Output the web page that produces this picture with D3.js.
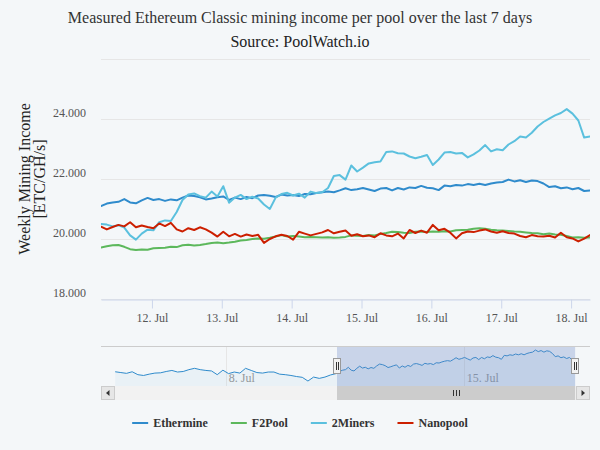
<!DOCTYPE html>
<html>
<head>
<meta charset="utf-8">
<script src="https://cdn.jsdelivr.net/npm/d3@7"></script>
<style>
  html, body { margin: 0; padding: 0; background: #f4f7f9; }
  svg { display: block; font-family: 'Liberation Serif', 'Times New Roman', serif; }
</style>
</head>
<body>
<div id="chart"></div>
<script>
/**
 * Data
 */
const poolNames = ['Ethermine', 'F2Pool', '2Miners', 'Nanopool']
const poolColors = ['#2f8bcc', '#5cb85c', '#5bc0de', '#cc1f00']

// main window: one reading every 2 hours from 11 Jul 06:30 (UTC)
const mainStart = Date.UTC(2021, 6, 11, 6, 30)
const mainStepHours = 2

const ethermine = [
  21100, 21180, 21220, 21240, 21330, 21220, 21190, 21290, 21370, 21300,
  21330, 21270, 21320, 21290, 21380, 21450, 21430, 21390, 21320, 21350,
  21390, 21420, 21300, 21380, 21330, 21400, 21360, 21450, 21470, 21440,
  21400, 21480, 21450, 21470, 21430, 21500, 21490, 21530, 21560, 21580,
  21560, 21620, 21690, 21630, 21660, 21700, 21650, 21600, 21680, 21700,
  21620, 21700, 21650, 21720, 21700, 21770, 21710, 21690, 21630, 21780,
  21760, 21800, 21780, 21830, 21800, 21840, 21800, 21850, 21880, 21900,
  21980, 21920, 21960, 21900, 21950, 21930, 21850, 21730, 21760, 21690,
  21720, 21660, 21700, 21600, 21620
]
const f2pool = [
  19720, 19760, 19790, 19800, 19740, 19660, 19630, 19650, 19640, 19690,
  19700, 19710, 19740, 19730, 19790, 19810, 19780, 19800, 19830, 19870,
  19880, 19860, 19880, 19910, 19950, 19970, 20000, 20020, 20010, 20040,
  20080, 20130, 20080, 20100, 20080, 20060, 20070, 20060, 20050, 20060,
  20040, 20050, 20070, 20120, 20110, 20100, 20130, 20120, 20170, 20200,
  20240, 20230, 20210, 20200, 20240, 20250, 20230, 20250, 20240, 20260,
  20250, 20290, 20300, 20310, 20340, 20360, 20340, 20310, 20290, 20280,
  20270, 20250, 20240, 20220, 20200, 20190, 20160, 20180, 20150, 20140,
  20100, 20050, 20060, 20040, 20050
]
const twoMiners = [
  20500, 20480, 20420, 20460, 20380, 20120, 19980, 20180, 20310, 20290,
  20560, 20620, 20600, 20900, 21300, 21480, 21520, 21430, 21380, 21580,
  21420, 21760, 21210, 21380, 21470, 21330, 21410, 21350, 21150, 21000,
  21380, 21500, 21540, 21450, 21510, 21380, 21580, 21530, 21560, 21700,
  22100, 22130, 21980, 22450, 22250, 22380, 22520, 22560, 22580, 22900,
  22920, 22860, 22850, 22750, 22690, 22740, 22800, 22470, 22650, 22880,
  22900, 22850, 22870, 22720, 22820, 22950, 23130, 22920, 22990, 22960,
  23150, 23260, 23420, 23380, 23540, 23750, 23900, 24010, 24120, 24200,
  24330, 24180, 23950, 23380, 23420
]
const nanopool = [
  20410, 20320, 20400, 20470, 20420, 20560, 20390, 20450, 20400, 20360,
  20520, 20430, 20540, 20320, 20250, 20360, 20300, 20390, 20320, 20210,
  20080, 20240, 20090, 20170, 20080, 20150, 20100, 20140, 19870, 20000,
  20090, 20140, 20100, 19980, 20240, 20180, 20120, 20170, 20220, 20300,
  20190, 20240, 20280, 20110, 20160, 20090, 20120, 20060, 20190, 20120,
  20090, 20180, 20020, 20300, 20200, 20280, 20210, 20470, 20290, 20340,
  20210, 20020, 20190, 20250, 20230, 20280, 20320, 20250, 20210, 20260,
  20200, 20180, 20100, 20060, 20130, 20090, 20080, 20110, 20050, 20210,
  20060, 20020, 19920, 20010, 20130
]
const poolValues = [ethermine, f2pool, twoMiners, nanopool]

// older Ethermine readings, only seen in the navigator (every 4 hours from 4 Jul 18:00)
const earlyStart = Date.UTC(2021, 6, 4, 18)
const earlyStepHours = 4
const ethermineEarly = [
  21160, 21130, 21100, 21160, 21050, 21020, 21070, 21110, 21120, 21170,
  21210, 21150, 21170, 21240, 21290, 21240, 21210, 21190, 21050, 21220,
  21090, 21150, 21110, 21290, 21210, 21130, 21110, 21150, 21150, 21070,
  21050, 21020, 20980, 20950, 20810, 20960, 20910, 20960, 21040
]

// axes
const yTicks = [18000, 20000, 22000, 24000, 26000]
const yLabelled = [18000, 20000, 22000, 24000]
const navTicks = [Date.UTC(2021, 6, 8), Date.UTC(2021, 6, 15)]
const navRange = [Date.UTC(2021, 6, 4, 8), Date.UTC(2021, 6, 18, 17)]

const titleText = 'Measured Ethereum Classic mining income per pool over the last 7 days'
const subtitleText = 'Source: PoolWatch.io'
const yTitle = ['Weekly Mining Income', '[ETC/GH/s]']

/**
 * Layout
 */
const W = 600
const H = 450
const plot = { left: 101, right: 590, top: 59, bottom: 299 }
const nav = { top: 346, bottom: 386, scroll: 14 }
const c_grid = '#e6e6e6'
const c_axis = '#ccd6eb'

const hour = 3600e3
const mainTimes = ethermine.map((d, i) => new Date(mainStart + i * mainStepHours * hour))
const mainEnd = mainTimes[mainTimes.length - 1]
const earlyTimes = ethermineEarly.map((d, i) => new Date(earlyStart + i * earlyStepHours * hour))

const svg = d3.select('#chart')
  .append('svg')
  .attr('width', W)
  .attr('height', H)

svg.append('rect')
  .attr('width', W)
  .attr('height', H)
  .attr('fill', '#f4f7f9')

// titles
svg.append('text')
  .text(titleText)
  .attr('x', W / 2)
  .attr('y', 23)
  .attr('text-anchor', 'middle')
  .style('font-size', '16px')
  .attr('fill', '#333')

svg.append('text')
  .text(subtitleText)
  .attr('x', W / 2)
  .attr('y', 47)
  .attr('text-anchor', 'middle')
  .style('font-size', '16px')
  .attr('fill', '#222')

/**
 * Main chart
 */
let x = d3.scaleUtc()
  .domain([new Date(mainStart), mainEnd])
  .range([plot.left, plot.right])
let y = d3.scaleLinear()
  .domain([18000, 26000])
  .range([plot.bottom, plot.top])

let fmt = d3.formatLocale({ decimal: ',', thousands: '.', grouping: [3], currency: ['', ''] }).format(',')

// grid
svg.append('g')
  .selectAll('line')
  .data(yTicks)
  .enter()
  .append('line')
  .attr('x1', plot.left)
  .attr('x2', plot.right)
  .attr('y1', (d) => Math.round(y(d)) + 0.5)
  .attr('y2', (d) => Math.round(y(d)) + 0.5)
  .attr('stroke', c_grid)

// y labels
svg.append('g')
  .selectAll('text')
  .data(yLabelled)
  .enter()
  .append('text')
  .text((d) => fmt(d))
  .attr('x', 86)
  .attr('y', (d) => y(d) - 2)
  .attr('text-anchor', 'end')
  .style('font-size', '12px')
  .attr('fill', '#555')

// y title, two lines
yTitle.forEach((t, i) => {
  svg.append('text')
    .text(t)
    .attr('transform', `translate(${30 + i * 15},${(plot.top + plot.bottom) / 2}) rotate(-90)`)
    .attr('text-anchor', 'middle')
    .style('font-size', '16px')
    .attr('fill', '#222')
})

// x axis
let x_axis = d3.axisBottom(x)
  .ticks(d3.utcDay.every(1))
  .tickFormat(d3.utcFormat('%-d. %b'))
  .tickSizeInner(9)
  .tickSizeOuter(0)
  .tickPadding(5)

let gx = svg.append('g')
  .attr('transform', `translate(0,${plot.bottom + 0.5})`)
  .call(x_axis)
gx.select('.domain').attr('stroke', c_axis)
gx.selectAll('.tick line').attr('stroke', c_axis)
gx.selectAll('.tick text')
  .attr('fill', '#555')
  .style('font-size', '12px')
  .style('font-family', "'Liberation Serif', 'Times New Roman', serif")

// series
svg.append('clipPath')
  .attr('id', 'clip')
  .append('rect')
  .attr('x', plot.left)
  .attr('y', plot.top - 5)
  .attr('width', plot.right - plot.left)
  .attr('height', plot.bottom - plot.top + 5)

let line = d3.line()
  .x((d, i) => x(mainTimes[i]))
  .y((d) => y(d))

svg.append('g')
  .attr('clip-path', 'url(#clip)')
  .selectAll('path')
  .data(poolValues)
  .enter()
  .append('path')
  .attr('d', (d) => line(d))
  .attr('fill', 'none')
  .attr('stroke', (d, i) => poolColors[i])
  .attr('stroke-width', 2)
  .attr('stroke-linejoin', 'round')
  .attr('stroke-linecap', 'round')

/**
 * Navigator
 */
let navTimes = earlyTimes.concat(mainTimes)
let navValues = ethermineEarly.concat(ethermine)

let nx = d3.scaleUtc()
  .domain(navRange.map((d) => new Date(d)))
  .range([plot.left, plot.right])
let ext = d3.extent(navValues)
let span = ext[1] - ext[0]
let ny = d3.scaleLinear()
  .domain([ext[0] - span * 0.16, ext[1] + span * 0.13])
  .range([nav.bottom, nav.top])

let ng = svg.append('g')

ng.selectAll('.navgrid')
  .data(navTicks)
  .enter()
  .append('line')
  .attr('x1', (d) => Math.round(nx(d)) + 0.5)
  .attr('x2', (d) => Math.round(nx(d)) + 0.5)
  .attr('y1', nav.top)
  .attr('y2', nav.bottom)
  .attr('stroke', c_grid)

ng.selectAll('.navlabel')
  .data(navTicks)
  .enter()
  .append('text')
  .text((d) => d3.utcFormat('%-d. %b')(new Date(d)))
  .attr('x', (d) => nx(d) + 3)
  .attr('y', nav.top + 36)
  .style('font-size', '12px')
  .attr('fill', '#999')

ng.append('path')
  .attr('d', d3.area()
    .x((d, i) => nx(navTimes[i]))
    .y0(nav.bottom)
    .y1((d) => ny(d))(navValues))
  .attr('fill', poolColors[0])
  .attr('fill-opacity', 0.05)

ng.append('path')
  .attr('d', d3.line()
    .x((d, i) => nx(navTimes[i]))
    .y((d) => ny(d))(navValues))
  .attr('fill', 'none')
  .attr('stroke', poolColors[0])
  .attr('stroke-width', 1)

let selL = nx(new Date(mainStart))
let selR = nx(mainEnd)

// selected zone
ng.append('rect')
  .attr('x', selL)
  .attr('y', nav.top)
  .attr('width', selR - selL)
  .attr('height', nav.bottom - nav.top)
  .attr('fill', 'rgba(102,133,194,0.3)')

ng.append('line')
  .attr('x1', plot.left)
  .attr('x2', plot.right)
  .attr('y1', nav.top + 0.5)
  .attr('y2', nav.top + 0.5)
  .attr('stroke', '#ccc')

// scrollbar
let sy = nav.bottom
ng.append('rect')
  .attr('x', plot.left)
  .attr('y', sy)
  .attr('width', plot.right - plot.left)
  .attr('height', nav.scroll)
  .attr('fill', '#f2f2f2')

ng.append('rect')
  .attr('x', selL)
  .attr('y', sy)
  .attr('width', selR - selL)
  .attr('height', nav.scroll)
  .attr('fill', '#ccc')

let mid = Math.round((selL + selR) / 2)
;[-3, 0, 3].forEach((o) => {
  ng.append('line')
    .attr('x1', mid + o + 0.5)
    .attr('x2', mid + o + 0.5)
    .attr('y1', sy + 4)
    .attr('y2', sy + 10)
    .attr('stroke', '#333')
})

// arrow buttons
;[[plot.left, -1], [plot.right - nav.scroll, 1]].forEach(([bx, dir]) => {
  ng.append('rect')
    .attr('x', bx + 0.5)
    .attr('y', sy + 0.5)
    .attr('width', nav.scroll - 1)
    .attr('height', nav.scroll - 1)
    .attr('fill', '#e6e6e6')
    .attr('stroke', '#ccc')
  let cx = bx + nav.scroll / 2
  let cy = sy + nav.scroll / 2
  ng.append('path')
    .attr('d', `M${cx + 2 * dir},${cy} L${cx - 1.5 * dir},${cy - 3} L${cx - 1.5 * dir},${cy + 3} Z`)
    .attr('fill', '#333')
})

// handles
;[selL, selR].forEach((hx) => {
  let h = ng.append('g')
    .attr('transform', `translate(${Math.round(hx)},${(nav.top + nav.bottom) / 2})`)
  h.append('rect')
    .attr('x', -3.5)
    .attr('y', -7.5)
    .attr('width', 7)
    .attr('height', 15)
    .attr('fill', '#f2f2f2')
    .attr('stroke', '#999')
  ;[-1, 1].forEach((o) => {
    h.append('line')
      .attr('x1', o + 0.5)
      .attr('x2', o + 0.5)
      .attr('y1', -4)
      .attr('y2', 4)
      .attr('stroke', '#333')
  })
})

/**
 * Legend
 */
let lg = svg.append('g')
let items = lg.selectAll('g')
  .data(poolNames)
  .enter()
  .append('g')
items.append('line')
  .attr('x1', 0)
  .attr('x2', 16)
  .attr('y1', 0)
  .attr('y2', 0)
  .attr('stroke', (d, i) => poolColors[i])
  .attr('stroke-width', 2)
items.append('text')
  .text((d) => d)
  .attr('x', 21)
  .attr('y', 4)
  .style('font-size', '12px')
  .style('font-weight', 'bold')
  .attr('fill', '#333')

let widths = []
items.each(function () {
  widths.push(21 + d3.select(this).select('text').node().getComputedTextLength())
})
let gap = 23
let total = d3.sum(widths) + gap * (widths.length - 1)
let lx = W / 2 - total / 2
items.attr('transform', (d, i) => {
  let pos = lx + d3.sum(widths.slice(0, i)) + gap * i
  return `translate(${pos},423)`
})
</script>
</body>
</html>
